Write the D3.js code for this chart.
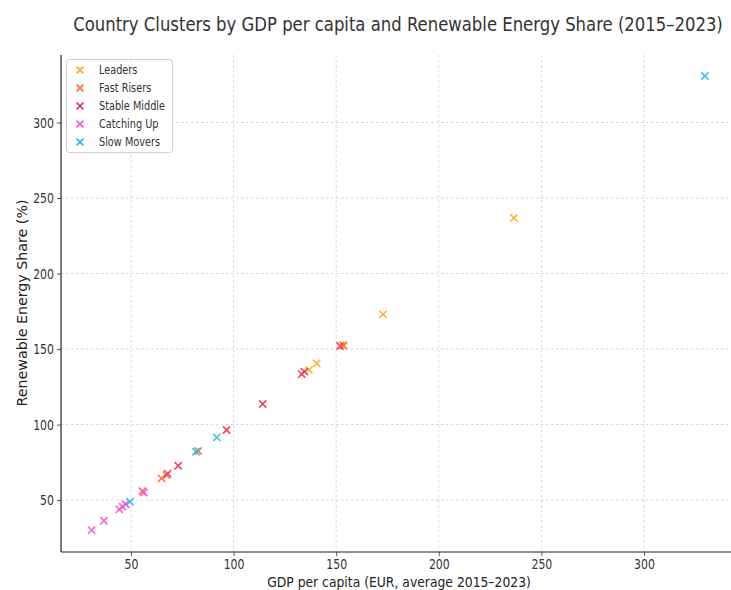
<!DOCTYPE html>
<html><head><meta charset="utf-8">
<script src="https://cdn.jsdelivr.net/npm/d3@7"></script>
<style>body{margin:0;background:#fff;} svg{display:block;}</style>
</head><body>
<script>
const seriesNames = ["Leaders","Fast Risers","Stable Middle","Catching Up","Slow Movers"];
const seriesColors = ["#FFAA1A","#FF6A2A","#F2304F","#FF4FC4","#27B8F0"];
const leaders = [[236.6,236.8],[172.8,173.0],[153.2,152.6],[140.5,140.5],[136.7,136.2]];
const fastRisers = [[55.6,56.0],[64.9,64.4],[67.3,66.5],[82.8,82.5],[153.6,152.2]];
const stableMiddle = [[73.0,72.7],[67.8,67.5],[96.6,96.4],[114.2,113.6],[133.2,133.4],[134.5,135.0],[151.9,152.0]];
const catchingUp = [[30.8,30.1],[36.8,36.3],[44.3,43.8],[45.9,45.6],[47.4,47.2],[56.2,55.0]];
const slowMovers = [[49.5,48.9],[81.7,82.0],[91.8,91.5],[329.7,330.8]];
const xTicks = [50,100,150,200,250,300];
const yTicks = [50,100,150,200,250,300];
const allSeries = [leaders, fastRisers, stableMiddle, catchingUp, slowMovers];

const W = 731, H = 590;
const L = 61, R = 731, T = 55, B = 552;
const svg = d3.select("body").append("svg").attr("width", W).attr("height", H);
const x = d3.scaleLinear().domain([15.9, 342.4]).range([L, R]);
const y = d3.scaleLinear().domain([15.6, 344.7]).range([B, T]);
const font = "DejaVu Sans, sans-serif";
const sx = 0.78;

// grid
const g = svg.append("g");
g.selectAll(".gx").data(xTicks).join("line")
  .attr("x1", d => x(d)).attr("x2", d => x(d)).attr("y1", T).attr("y2", B)
  .attr("stroke", "#cccccc").attr("stroke-width", 0.8).attr("stroke-dasharray", "2.5,2.5");
g.selectAll(".gy").data(yTicks).join("line")
  .attr("x1", L).attr("x2", R).attr("y1", d => y(d)).attr("y2", d => y(d))
  .attr("stroke", "#cccccc").attr("stroke-width", 0.8).attr("stroke-dasharray", "2.5,2.5");

// axes
const xAxis = svg.append("g").attr("transform", `translate(0,${B})`)
  .call(d3.axisBottom(x).tickValues(xTicks).tickSize(4).tickPadding(3));
const yAxis = svg.append("g").attr("transform", `translate(${L},0)`)
  .call(d3.axisLeft(y).tickValues(yTicks).tickSize(4).tickPadding(3));
[xAxis, yAxis].forEach(a => {
  a.select(".domain").remove();
  a.selectAll(".tick line").attr("stroke", "#333").attr("stroke-width", 0.8);
  a.selectAll(".tick text").attr("font-family", font).attr("font-size", 14).attr("fill", "#333");
});
xAxis.selectAll(".tick text").attr("transform", `scale(${sx},1)`).attr("x", 0);
yAxis.selectAll(".tick text").attr("x", -7 / sx).attr("transform", `scale(${sx},1)`);
// spines
svg.append("line").attr("x1", L).attr("x2", L).attr("y1", T).attr("y2", B).attr("stroke", "#222").attr("stroke-width", 1.2);
svg.append("line").attr("x1", L).attr("x2", R).attr("y1", B).attr("y2", B).attr("stroke", "#222").attr("stroke-width", 1.2);

// markers
const ms = 3.6;
allSeries.forEach((s, i) => {
  const gg = svg.append("g");
  gg.selectAll("path").data(s).join("path")
    .attr("d", d => {
      const px = x(d[0]), py = y(d[1]);
      return `M${px-ms},${py-ms}L${px+ms},${py+ms}M${px-ms},${py+ms}L${px+ms},${py-ms}`;
    })
    .attr("stroke", seriesColors[i]).attr("stroke-width", 1.6).attr("fill", "none").attr("opacity", 0.9);
});

// fitted text helper: scales horizontally to target width
function fitText(cx, cy, size, fill, txt, width, rotate) {
  const grp = svg.append("g").attr("transform", `translate(${cx},${cy})${rotate ? " rotate(-90)" : ""}`);
  const t = grp.append("text").attr("text-anchor", "middle").attr("x", 0).attr("y", 0)
    .attr("font-family", font).attr("font-size", size).attr("fill", fill).text(txt);
  const nat = t.node().getComputedTextLength();
  t.attr("transform", `scale(${width / nat},1)`);
  return t;
}
fitText(398, 31, 20, "#333", "Country Clusters by GDP per capita and Renewable Energy Share (2015–2023)", 650, false);
fitText(399, 587, 14, "#222", "GDP per capita (EUR, average 2015–2023)", 264, false);
fitText(27, 303, 14, "#222", "Renewable Energy Share (%)", 207, true);

// legend
const lg = svg.append("g");
lg.append("rect").attr("x", 66.5).attr("y", 59.5).attr("width", 106).attr("height", 93).attr("rx", 3)
  .attr("fill", "#fff").attr("fill-opacity", 0.85).attr("stroke", "#d0d0d0").attr("stroke-width", 1);
seriesNames.forEach((n, i) => {
  const cy = 70 + i * 18;
  const cx = 80, m = 3.4;
  lg.append("path").attr("d", `M${cx-m},${cy-m}L${cx+m},${cy+m}M${cx-m},${cy+m}L${cx+m},${cy-m}`)
    .attr("stroke", seriesColors[i]).attr("stroke-width", 1.6).attr("fill", "none");
  lg.append("text").attr("x", 99 / sx).attr("y", cy + 4.5).attr("transform", `scale(${sx},1)`)
    .attr("font-family", font).attr("font-size", 12.5).attr("fill", "#333").text(n);
});
</script>
</body></html>
